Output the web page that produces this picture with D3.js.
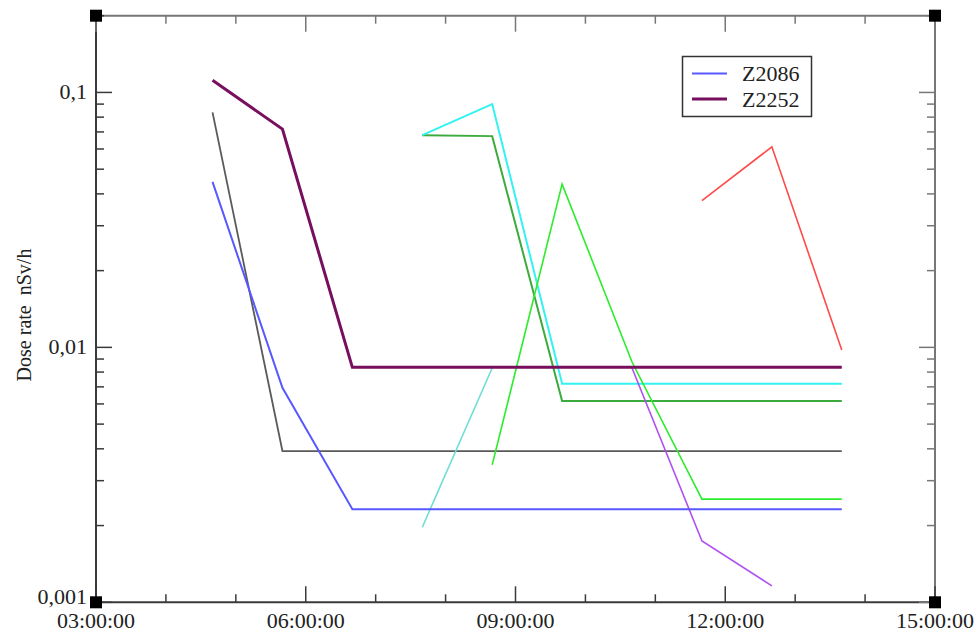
<!DOCTYPE html>
<html><head><meta charset="utf-8">
<script src="https://cdn.jsdelivr.net/npm/d3@7"></script>
<style>html,body{margin:0;padding:0;background:#fff}svg{display:block}text{font-family:"Liberation Serif","DejaVu Serif",serif;fill:#222}</style>
</head><body>
<svg id="chart" width="978" height="632"></svg>
<script>
// ---- data ----
const times = ["04:40","05:40","06:40","07:40","08:40","09:40","10:40","11:40","12:40","13:40"];
const z2086   = [0.0446, 0.00694, 0.00232, 0.00232, 0.00232, 0.00232, 0.00232, 0.00232, 0.00232, 0.00232];
const z2252   = [0.1117, 0.0718, 0.00835, 0.00835, 0.00835, 0.00835, 0.00835, 0.00835, 0.00835, 0.00835];
const grayS   = [0.0835, 0.00392, 0.00392, 0.00392, 0.00392, 0.00392, 0.00392, 0.00392, 0.00392, 0.00392];
const turqS   = [null, null, null, 0.00197, 0.0083, null, null, null, null, null];
const cyanS   = [null, null, null, 0.068, 0.090, 0.0072, 0.0072, 0.0072, 0.0072, 0.0072];
const dgreenS = [null, null, null, 0.068, 0.0674, 0.00616, 0.00616, 0.00616, 0.00616, 0.00616];
const greenS  = [null, null, null, null, 0.00346, 0.0437, 0.00876, 0.00254, 0.00254, 0.00254];
const purpleS = [null, null, null, null, null, null, 0.0083, 0.00174, 0.00116, null];
const redS    = [null, null, null, null, null, null, null, 0.0376, 0.0612, 0.00976];
const xTickLabels = ["03:00:00","06:00:00","09:00:00","12:00:00","15:00:00"];
const yTickLabels = ["0,001","0,01","0,1"];
const legendNames = ["Z2086","Z2252"];
const yTitle = "Dose rate  nSv/h";

// ---- layout ----
const L = 96, R = 935, T = 15.7, B = 602.3;
const svg = d3.select("#chart");
const parse = s => { const [h,m] = s.split(":").map(Number); return new Date(Date.UTC(2000,0,1,h,m)); };
const x = d3.scaleUtc().domain([parse("03:00"), parse("15:00")]).range([L, R]);
const y = d3.scaleLog().domain([0.001, 0.2]).range([B, T]);

const series = [
  {v: grayS,   c: "#5a5a5a", w: 1.8},
  {v: turqS,   c: "#70ddd5", w: 1.6},
  {v: dgreenS, c: "#3daa3d", w: 2},
  {v: cyanS,   c: "#33f2f2", w: 2},
  {v: greenS,  c: "#2cec2c", w: 1.6},
  {v: purpleS, c: "#b050f0", w: 1.6},
  {v: redS,    c: "#ff4a4a", w: 1.6},
  {v: z2086,   c: "#5858ff", w: 2},
  {v: z2252,   c: "#780f5e", w: 3}
];
const line = d3.line().defined(d => d.v != null).x(d => x(d.t)).y(d => y(d.v));
series.forEach(s => {
  const pts = times.map((t,i) => ({t: parse(t), v: s.v[i]}));
  svg.append("path").attr("d", line(pts)).attr("fill","none")
    .attr("stroke", s.c).attr("stroke-width", s.w).attr("stroke-linejoin","miter");
});

// ---- axes ----
const hourTicks = d3.utcHour.every(1).range(parse("03:00"), new Date(parse("15:00").getTime()+1));
const majorX = hourTicks.filter(d => d.getUTCHours() % 3 === 0);
const minorX = hourTicks.filter(d => d.getUTCHours() % 3 !== 0);
const majorY = [0.001, 0.01, 0.1];
const minorY = [];
[0.001, 0.01, 0.1].forEach(dec => { for (let k = 2; k <= 9; k++) { const v = dec*k; if (v <= 0.2 + 1e-9) minorY.push(v); } });

const axisCol = "#3a3a3a", axisCol2 = "#777";
const g = svg.append("g");
g.append("line").attr("x1",L).attr("x2",R).attr("y1",B).attr("y2",B).attr("stroke",axisCol).attr("stroke-width",2);
g.append("line").attr("x1",L).attr("x2",L).attr("y1",T).attr("y2",B).attr("stroke",axisCol).attr("stroke-width",2);
g.append("line").attr("x1",L).attr("x2",R).attr("y1",T).attr("y2",T).attr("stroke",axisCol2).attr("stroke-width",2);
g.append("line").attr("x1",R).attr("x2",R).attr("y1",T).attr("y2",B).attr("stroke",axisCol2).attr("stroke-width",2);

const MAJ = 16, MIN = 8;
majorX.forEach(d => {
  g.append("line").attr("x1",x(d)).attr("x2",x(d)).attr("y1",B).attr("y2",B-MAJ).attr("stroke",axisCol).attr("stroke-width",1.5);
  g.append("line").attr("x1",x(d)).attr("x2",x(d)).attr("y1",T).attr("y2",T+MAJ).attr("stroke",axisCol2).attr("stroke-width",1.5);
});
minorX.forEach(d => {
  g.append("line").attr("x1",x(d)).attr("x2",x(d)).attr("y1",B).attr("y2",B-MIN).attr("stroke",axisCol).attr("stroke-width",1.5);
  g.append("line").attr("x1",x(d)).attr("x2",x(d)).attr("y1",T).attr("y2",T+MIN).attr("stroke",axisCol2).attr("stroke-width",1.5);
});
majorY.forEach(v => {
  g.append("line").attr("x1",L).attr("x2",L+MAJ).attr("y1",y(v)).attr("y2",y(v)).attr("stroke",axisCol).attr("stroke-width",1.5);
  g.append("line").attr("x1",R).attr("x2",R-MAJ).attr("y1",y(v)).attr("y2",y(v)).attr("stroke",axisCol2).attr("stroke-width",1.5);
});
minorY.forEach(v => {
  g.append("line").attr("x1",L).attr("x2",L+MIN).attr("y1",y(v)).attr("y2",y(v)).attr("stroke",axisCol).attr("stroke-width",1.5);
  g.append("line").attr("x1",R).attr("x2",R-MIN).attr("y1",y(v)).attr("y2",y(v)).attr("stroke",axisCol2).attr("stroke-width",1.5);
});

[[L,T],[R,T],[L,B],[R,B]].forEach(([cx,cy]) => {
  g.append("rect").attr("x",cx-6).attr("y",cy-6).attr("width",12).attr("height",12).attr("fill","#000");
});

majorX.forEach((d,i) => {
  svg.append("text").attr("x",x(d)).attr("y",628).attr("text-anchor","middle")
    .attr("font-size",22).text(xTickLabels[i]);
});
majorY.forEach((v,i) => {
  svg.append("text").attr("x",87).attr("y",y(v)+(v === 0.001 ? 1.5 : 7)).attr("text-anchor","end")
    .attr("font-size",22).text(yTickLabels[i]);
});

svg.append("text").attr("transform",`translate(31,${(T+B)/2+6}) rotate(-90)`)
  .attr("text-anchor","middle").attr("font-size",20)
  .style("white-space","pre").attr("xml:space","preserve").text(yTitle);

const lg = svg.append("g");
lg.append("rect").attr("x",682.5).attr("y",56.5).attr("width",129).attr("height",60)
  .attr("fill","#fff").attr("stroke","#333").attr("stroke-width",1.5);
[{c:"#5858ff",w:2},{c:"#780f5e",w:3}].forEach((s,i) => {
  const yy = 73.5 + i*25.5;
  lg.append("line").attr("x1",692).attr("x2",727).attr("y1",yy).attr("y2",yy).attr("stroke",s.c).attr("stroke-width",s.w);
  lg.append("text").attr("x",742).attr("y",yy+7.5).attr("font-size",22).text(legendNames[i]);
});
</script>
</body></html>
